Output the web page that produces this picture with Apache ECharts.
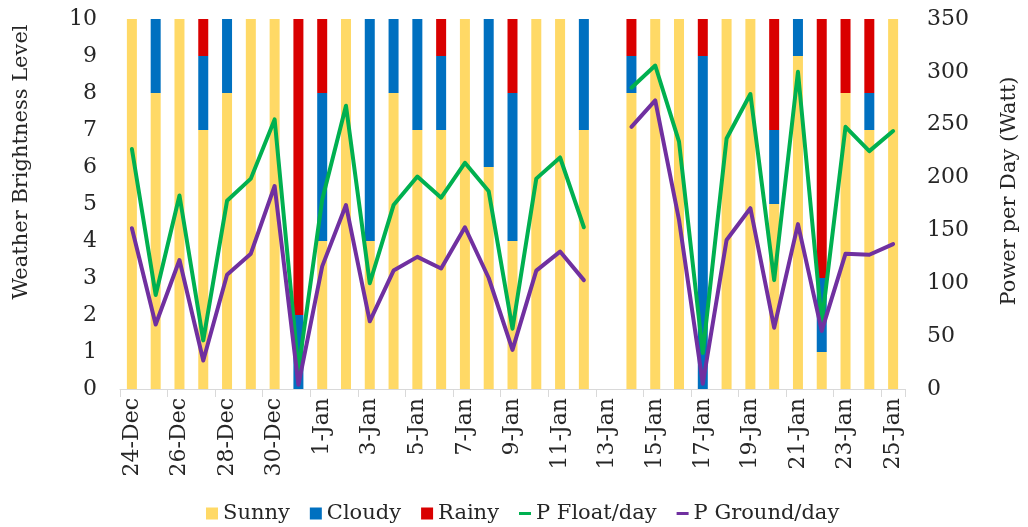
<!DOCTYPE html>
<html>
<head>
<meta charset="utf-8">
<style>
html, body { margin: 0; padding: 0; background: #fff; }
#chart { width: 1028px; height: 527px; }
</style>
<script src="https://cdn.jsdelivr.net/npm/echarts@6/dist/echarts.min.js"></script>
</head>
<body>
<div id="chart"></div>
<script>
// days on the x axis
var days = ['24-Dec','25-Dec','26-Dec','27-Dec','28-Dec','29-Dec','30-Dec','31-Dec',
	'1-Jan','2-Jan','3-Jan','4-Jan','5-Jan','6-Jan','7-Jan','8-Jan','9-Jan','10-Jan',
	'11-Jan','12-Jan','13-Jan','14-Jan','15-Jan','16-Jan','17-Jan','18-Jan','19-Jan',
	'20-Jan','21-Jan','22-Jan','23-Jan','24-Jan','25-Jan'];

// weather level parts (stacked to 10)
var sunny  = [10,8,10,7,8,10,10,0, 4,10,4,8,7,7,10,6,4,10,10,7,null,8,10,10,0,10,10,5,9,1,8,7,10];
var cloudy = [0,2,0,2,2,0,0,2, 4,0,6,2,3,2,0,4,4,0,0,3,null,1,0,0,9,0,0,2,1,2,0,1,0];
var rainy  = [0,0,0,1,0,0,0,8, 2,0,0,0,0,1,0,0,2,0,0,0,null,1,0,0,1,0,0,3,0,7,2,2,0];

// power per day (Watt)
var pFloat  = [227,89,183,46,178,199,255,18, 179,268,100,174,201,181,214,187,57,199,219,153,null,285,306,234,34,237,279,103,300,63,248,225,244];
var pGround = [152,61,122,27,108,128,192,4, 116,174,64,112,125,114,153,105,37,112,130,103,null,248,273,160,5,141,171,58,156,55,128,127,137];

var leftTicks = [0,1,2,3,4,5,6,7,8,9,10];
var rightTicks = [0,50,100,150,200,250,300,350];

var font = 'DejaVu Serif';
var txtColor = '#262626';
var lineIcon = 'path://M0,0 L16,0 L16,4 L0,4 Z';

var chart = echarts.init(document.getElementById('chart'));

var option = {
	animation: false,
	color: ['#FFD966','#0070C0','#D90000','#00B050','#7030A0'],
	grid: {
		left: 120,
		right: 123,
		top: 19,
		bottom: 138,
		containLabel: false,
		outerBoundsMode: 'none'
	},
	legend: {
		left: 201,
		top: 498,
		itemWidth: 12,
		itemHeight: 12,
		itemGap: 20,
		textStyle: { fontFamily: font, fontSize: 21, color: txtColor },
		data: [
			{ name: 'Sunny', icon: 'rect' },
			{ name: 'Cloudy', icon: 'rect' },
			{ name: 'Rainy', icon: 'rect' },
			{ name: 'P Float/day', icon: lineIcon },
			{ name: 'P Ground/day', icon: lineIcon }
		]
	},
	xAxis: {
		type: 'category',
		data: days,
		boundaryGap: true,
		axisLine: { show: true, lineStyle: { color: '#D9D9D9', width: 1 } },
		axisTick: { show: true, interval: 1, length: 8, lineStyle: { color: '#D9D9D9' } },
		axisLabel: {
			interval: 1,
			rotate: 90,
			margin: 9,
			fontFamily: font,
			fontSize: 22,
			color: txtColor
		},
		splitLine: { show: false }
	},
	yAxis: [
		{
			type: 'value',
			min: leftTicks[0],
			max: leftTicks[leftTicks.length - 1],
			interval: 1,
			position: 'left',
			axisLine: { show: false },
			axisTick: { show: false },
			splitLine: { show: false },
			axisLabel: { margin: 23, fontFamily: font, fontSize: 22, color: txtColor }
		},
		{
			type: 'value',
			min: rightTicks[0],
			max: rightTicks[rightTicks.length - 1],
			interval: 50,
			position: 'right',
			axisLine: { show: false },
			axisTick: { show: false },
			splitLine: { show: false },
			axisLabel: { margin: 22, fontFamily: font, fontSize: 22, color: txtColor }
		}
	],
	graphic: [
		{
			type: 'text',
			x: 22,
			y: 162,
			rotation: Math.PI / 2,
			style: {
				text: 'Weather Brightness Level',
				font: '21px "DejaVu Serif"',
				fill: txtColor,
				textAlign: 'center',
				textVerticalAlign: 'middle'
			}
		},
		{
			type: 'text',
			x: 1010,
			y: 191,
			rotation: Math.PI / 2,
			style: {
				text: 'Power per Day (Watt)',
				font: '21px "DejaVu Serif"',
				fill: txtColor,
				textAlign: 'center',
				textVerticalAlign: 'middle'
			}
		}
	],
	series: [
		{ name: 'Sunny', type: 'bar', stack: 'w', barWidth: 10, data: sunny },
		{ name: 'Cloudy', type: 'bar', stack: 'w', barWidth: 10, data: cloudy },
		{ name: 'Rainy', type: 'bar', stack: 'w', barWidth: 10, data: rainy },
		{
			name: 'P Float/day',
			type: 'line',
			yAxisIndex: 1,
			symbol: 'none',
			z: 5,
			itemStyle: { color: '#00B050' },
			lineStyle: { width: 4, color: '#00B050', join: 'round', cap: 'round' },
			data: pFloat
		},
		{
			name: 'P Ground/day',
			type: 'line',
			yAxisIndex: 1,
			symbol: 'none',
			z: 5,
			itemStyle: { color: '#7030A0' },
			lineStyle: { width: 4, color: '#7030A0', join: 'round', cap: 'round' },
			data: pGround
		}
	]
};

chart.setOption(option);
</script>
</body>
</html>
